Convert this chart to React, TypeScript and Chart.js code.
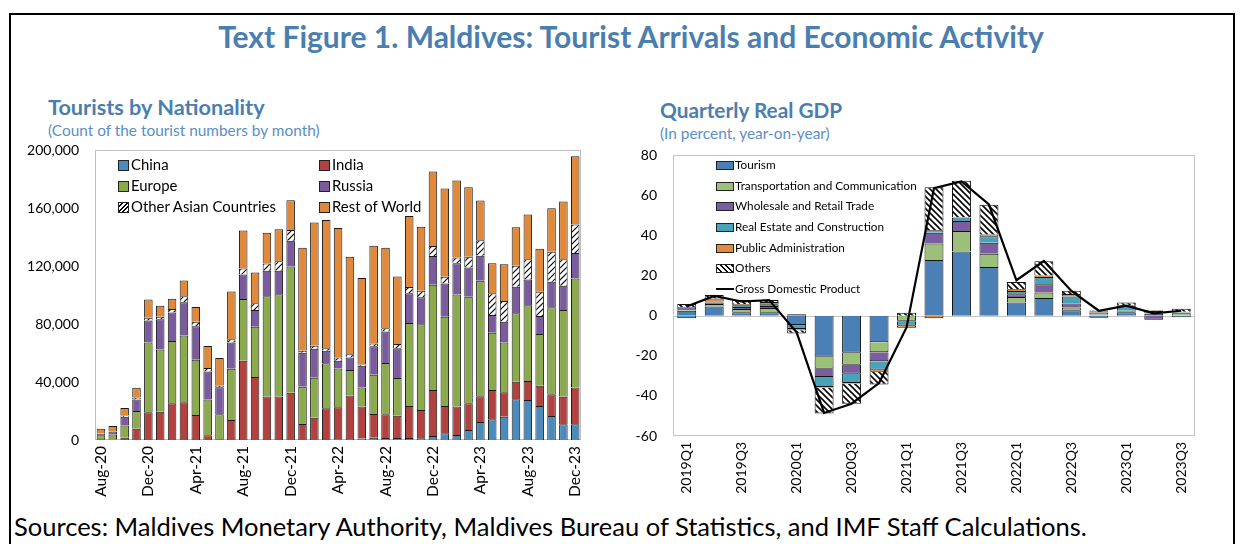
import React, { useEffect, useRef } from 'react';
import { Chart, registerables } from 'chart.js';

Chart.register(...registerables);

const FONT = 'Lato, "Noto Sans", sans-serif';

// ---------- Left chart: Tourists by Nationality ----------
const months = [
  'Aug-20', 'Sep-20', 'Oct-20', 'Nov-20', 'Dec-20',
  'Jan-21', 'Feb-21', 'Mar-21', 'Apr-21', 'May-21', 'Jun-21', 'Jul-21', 'Aug-21', 'Sep-21', 'Oct-21', 'Nov-21', 'Dec-21',
  'Jan-22', 'Feb-22', 'Mar-22', 'Apr-22', 'May-22', 'Jun-22', 'Jul-22', 'Aug-22', 'Sep-22', 'Oct-22', 'Nov-22', 'Dec-22',
  'Jan-23', 'Feb-23', 'Mar-23', 'Apr-23', 'May-23', 'Jun-23', 'Jul-23', 'Aug-23', 'Sep-23', 'Oct-23', 'Nov-23', 'Dec-23',
];

const china = [
  0, 0, 0, 0, 0, 0, 0, 0, 0, 0, 0, 0, 0, 0, 0, 0, 0, 0, 0, 0,
  500, 700, 1100, 1600, 1400, 1400, 1400, 1200, 2800, 4600, 3500, 6900, 12400, 14300, 16100, 28100, 27600, 23500, 16600, 10800, 10800,
];
const india = [
  500, 300, 1600, 7800, 19100, 19500, 25300, 26000, 17300, 3200, 500, 13800, 54700,
  43500, 30100, 30100, 32700, 11000, 15400, 21900, 22100, 30100, 22100, 16300, 16300, 15400, 22100,
  19600, 31700, 18900, 19600, 18400, 17900, 20200, 16800, 12200, 13100, 14000, 15000, 19100, 25500,
];
const europe = [
  2800, 3500, 8500, 12200, 48300, 43000, 43000, 46200, 38200, 24800, 17300, 35400, 42600,
  34700, 69200, 70600, 87200, 25800, 27600, 31100, 26700, 17500, 13100, 27100, 35400, 26000, 57300,
  59100, 72700, 61600, 77300, 73600, 79600, 39600, 34500, 47200, 52400, 35700, 60000, 59800, 75200,
];
const russia = [
  900, 2000, 6000, 8000, 15200, 20900, 19800, 23000, 23000, 19300, 18600, 18200, 17000,
  11500, 17500, 16100, 17700, 23500, 20000, 8700, 5500, 8700, 15000, 19800, 21900, 20500, 20500,
  18600, 19800, 23000, 21600, 20200, 17300, 12200, 14300, 18400, 17700, 12400, 17700, 16800, 17700,
];
const otherAsian = [
  300, 300, 900, 1400, 1800, 1800, 2300, 4100, 3200, 2500, 1200, 2100, 4100,
  4800, 5100, 6700, 7400, 1400, 2100, 1600, 2100, 2300, 900, 1800, 2100, 3000, 4400,
  4600, 6900, 4600, 4100, 7400, 10800, 15000, 14300, 14500, 14000, 16800, 20700, 18400, 19600,
];
const restOfWorld = [
  3200, 3500, 5100, 6700, 12700, 7600, 7100, 10800, 10100, 15200, 19100, 33100, 26200,
  21200, 21200, 22100, 20500, 71100, 85100, 88600, 89500, 67200, 59600, 67600, 55700, 46700, 49000,
  44200, 51500, 61000, 53100, 48100, 27400, 20700, 25300, 26500, 31000, 29700, 30100, 39800, 47200,
];

// ---------- Right chart: Quarterly Real GDP ----------
const quarters = [
  '2019Q1', '2019Q2', '2019Q3', '2019Q4', '2020Q1', '2020Q2', '2020Q3', '2020Q4',
  '2021Q1', '2021Q2', '2021Q3', '2021Q4', '2022Q1', '2022Q2', '2022Q3', '2022Q4',
  '2023Q1', '2023Q2', '2023Q3',
];
const tourism = [2.5, 4.6, 1.7, 1.7, -4.6, -20.4, -18.5, -13.2, 0, 27.8, 32, 24.3, 6.6, 8.8, 2.8, -1.0, 1.7, 1.0, -0.8];
const transport = [0.8, 1.2, 1.7, 2.2, -0.5, -6.1, -6, -5, -2.5, 8.3, 10.3, 6.6, 2.8, 2.8, 1.3, 0.3, 0.3, 0.3, 1.2];
const wholesale = [0.6, 0.8, 1, 1, 0.8, -4.1, -4.5, -4.5, -0.5, 5.3, 5, 5.5, 1.3, 4.1, 2, 0.3, 0.5, -2, 0.3];
const realEstate = [-1.2, 0.5, 0.8, 0.8, -1.5, -5, -4.6, -4.3, -2, 1.2, 1.7, 3.3, 1.7, 3.6, 3.5, 1.0, 2.5, 1.1, 0.3];
const publicAdmin = [0.5, 1.5, 0.7, 1.2, -0.7, -0.3, -0.3, -1, -1, -1.2, 0.2, 0.8, 0.8, 0.8, 1.2, 0.7, 0.3, 0.2, 0.2];
const others = [1.5, 1.8, 2, 1, -1.5, -12.9, -10, -6.3, 1.5, 21.5, 18.2, 14.9, 3.6, 7.1, 1.7, 0.3, 1.3, 0.3, 1.5];
const gdp = [4.6, 9.9, 7.1, 7.8, -8.3, -48.5, -43.9, -33.6, -5.8, 63.7, 67, 55.5, 17.7, 27.3, 12.4, 2.5, 5, 1.2, 2.5];

const C = {
  china: '#4A8BBE',
  india: '#B2423F',
  europe: '#8AAA4C',
  russia: '#7A5C9E',
  rest: '#E0893B',
  tourism: '#4A80B5',
  transport: '#9BC07A',
  wholesale: '#7B5EA0',
  realEstate: '#4AA2B9',
  publicAdmin: '#E38A3E',
  title: '#4A7EB0',
  sub: '#5A8FC6',
};

function makePattern(dir: 'up' | 'down', size: number, lw: number): CanvasPattern {
  const c = document.createElement('canvas');
  c.width = size;
  c.height = size;
  const g = c.getContext('2d') as CanvasRenderingContext2D;
  g.fillStyle = '#fff';
  g.fillRect(0, 0, size, size);
  g.strokeStyle = '#000';
  g.lineWidth = lw;
  g.beginPath();
  if (dir === 'up') {
    g.moveTo(0, size); g.lineTo(size, 0);
    g.moveTo(-2, 2); g.lineTo(2, -2);
    g.moveTo(size - 2, size + 2); g.lineTo(size + 2, size - 2);
  } else {
    g.moveTo(0, 0); g.lineTo(size, size);
    g.moveTo(size - 2, -2); g.lineTo(size + 2, 2);
    g.moveTo(-2, size - 2); g.lineTo(2, size + 2);
  }
  g.stroke();
  return g.createPattern(c, 'repeat') as CanvasPattern;
}

const framePlugin = {
  id: 'frame',
  beforeDatasetsDraw(chart: any, _args: any, opts: any) {
    const { ctx, chartArea: a } = chart;
    ctx.save();
    ctx.strokeStyle = opts.color || '#BFBFBF';
    ctx.lineWidth = 1;
    ctx.strokeRect(Math.round(a.left) + 0.5, Math.round(a.top) + 0.5, Math.round(a.right - a.left) - 1, Math.round(a.bottom - a.top) - 1);
    if (opts.zero) {
      const y = Math.round(chart.scales.y.getPixelForValue(0)) + 0.5;
      ctx.beginPath();
      ctx.moveTo(a.left, y);
      ctx.lineTo(a.right, y);
      ctx.stroke();
    }
    ctx.restore();
  },
};

function LeftChart() {
  const ref = useRef<HTMLCanvasElement>(null);
  useEffect(() => {
    const hatch = makePattern('up', 6, 1.2);
    const mk = (label: string, data: number[], color: any) => ({
      label, data, backgroundColor: color, borderColor: '#1a1a1a', borderWidth: 1,
      barPercentage: 0.72, categoryPercentage: 1,
    });
    const chart = new Chart(ref.current as HTMLCanvasElement, {
      type: 'bar',
      data: {
        labels: months,
        datasets: [
          mk('China', china, C.china),
          mk('India', india, C.india),
          mk('Europe', europe, C.europe),
          mk('Russia', russia, C.russia),
          mk('Other Asian Countries', otherAsian, hatch),
          mk('Rest of World', restOfWorld, C.rest),
        ],
      },
      options: {
        responsive: false,
        animation: false,
        layout: { padding: { top: 10, right: 13, bottom: 0, left: 0 } },
        plugins: { legend: { display: false }, tooltip: { enabled: false }, frame: { color: '#BFBFBF' } } as any,
        scales: {
          x: {
            stacked: true,
            grid: { display: false, drawTicks: false },
            border: { display: false },
            afterFit: (s: any) => { s.height = 70; },
            ticks: {
              autoSkip: false, minRotation: 90, maxRotation: 90, padding: 6, color: '#000',
              font: { family: FONT, size: 15.5 },
              callback: (_v: any, i: number) => (i % 4 === 0 ? months[i] : ''),
            },
          },
          y: {
            stacked: true, min: 0, max: 200000,
            grid: { display: false, drawTicks: false },
            border: { display: false },
            afterFit: (s: any) => { s.width = 95; },
            ticks: {
              stepSize: 40000, padding: 16, color: '#000',
              font: { family: FONT, size: 14 },
              callback: (v: any) => Number(v).toLocaleString('en-US'),
            },
          },
        },
      },
      plugins: [framePlugin],
    } as any);
    return () => chart.destroy();
  }, []);
  return <canvas ref={ref} width={600} height={384} style={{ position: 'absolute', left: 0, top: 126, width: 600, height: 384 }} />;
}

function RightChart() {
  const ref = useRef<HTMLCanvasElement>(null);
  useEffect(() => {
    const hatch = makePattern('down', 6, 1.6);
    const mk = (label: string, data: number[], color: any) => ({
      type: 'bar', label, data, backgroundColor: color, borderColor: '#111', borderWidth: 1,
      barPercentage: 0.69, categoryPercentage: 1, order: 2,
    });
    const chart = new Chart(ref.current as HTMLCanvasElement, {
      type: 'bar',
      data: {
        labels: quarters,
        datasets: [
          mk('Tourism', tourism, C.tourism),
          mk('Transportation and Communication', transport, C.transport),
          mk('Wholesale and Retail Trade', wholesale, C.wholesale),
          mk('Real Estate and Construction', realEstate, C.realEstate),
          mk('Public Administration', publicAdmin, C.publicAdmin),
          mk('Others', others, hatch),
          {
            type: 'line', label: 'Gross Domestic Product', data: gdp, stack: 'gdp',
            borderColor: '#000', backgroundColor: '#000', borderWidth: 2.2, pointRadius: 0,
            tension: 0, order: 1, fill: false,
          },
        ],
      },
      options: {
        responsive: false,
        animation: false,
        layout: { padding: { top: 14, right: 46, bottom: 0, left: 0 } },
        plugins: { legend: { display: false }, tooltip: { enabled: false }, frame: { color: '#C4C4C4', zero: true } } as any,
        scales: {
          x: {
            stacked: true,
            grid: { display: false, drawTicks: false },
            border: { display: false },
            afterFit: (s: any) => { s.height = 74; },
            ticks: {
              autoSkip: false, minRotation: 90, maxRotation: 90, padding: 6, color: '#000',
              font: { family: FONT, size: 14 },
              callback: (_v: any, i: number) => (i % 2 === 0 ? quarters[i] : ''),
            },
          },
          y: {
            stacked: true, min: -60, max: 80,
            grid: { display: false, drawTicks: false },
            border: { display: false },
            afterFit: (s: any) => { s.width = 53; },
            ticks: {
              stepSize: 20, padding: 16, color: '#000',
              font: { family: FONT, size: 14 },
            },
          },
        },
      },
      plugins: [framePlugin],
    } as any);
    return () => chart.destroy();
  }, []);
  return <canvas ref={ref} width={621} height={379} style={{ position: 'absolute', left: 620, top: 131, width: 621, height: 379 }} />;
}

function Txt(props: { x: number; y: number; size: number; bold?: boolean; color?: string; children: any; width?: number; align?: any }) {
  const { x, y, size, bold, color, children, width, align } = props;
  return (
    <div
      style={{
        position: 'absolute', left: x, top: y - 0.53 * size, width, textAlign: align,
        fontSize: size, lineHeight: `${size}px`, fontWeight: bold ? 700 : 400,
        color: color || '#000', whiteSpace: 'nowrap', fontFamily: FONT,
      }}
    >
      {children}
    </div>
  );
}

const upHatchCss = 'repeating-linear-gradient(135deg, #fff 0px, #fff 2px, #000 2px, #000 3.2px)';
const downHatchCss = 'repeating-linear-gradient(45deg, #fff 0px, #fff 2.5px, #000 2.5px, #000 4px)';

function LBox(props: { x: number; y: number; bg: string }) {
  return (
    <div style={{ position: 'absolute', left: props.x, top: props.y - 5, width: 9, height: 9, background: props.bg, border: '1px solid #222', boxSizing: 'content-box' }} />
  );
}

function RBox(props: { y: number; bg?: string; line?: boolean }) {
  if (props.line) {
    return <div style={{ position: 'absolute', left: 716, top: props.y - 1, width: 18, height: 2, background: '#000' }} />;
  }
  return <div style={{ position: 'absolute', left: 716, top: props.y - 4, width: 16, height: 7, background: props.bg, border: '1px solid #222' }} />;
}

export default function App() {
  const leftLegend = [
    { x: 118, y: 165, bg: C.china, t: 'China' },
    { x: 319, y: 165, bg: C.india, t: 'India' },
    { x: 118, y: 186, bg: C.europe, t: 'Europe' },
    { x: 319, y: 186, bg: C.russia, t: 'Russia' },
    { x: 118, y: 207, bg: upHatchCss, t: 'Other Asian Countries' },
    { x: 319, y: 207, bg: C.rest, t: 'Rest of World' },
  ];
  const rightLegend = [
    { y: 165, bg: C.tourism, t: 'Tourism' },
    { y: 186, bg: C.transport, t: 'Transportation and Communication' },
    { y: 206, bg: C.wholesale, t: 'Wholesale and Retail Trade' },
    { y: 227, bg: C.realEstate, t: 'Real Estate and Construction' },
    { y: 248, bg: C.publicAdmin, t: 'Public Administration' },
    { y: 268, bg: downHatchCss, t: 'Others' },
  ];
  return (
    <div style={{ position: 'fixed', left: 0, top: 0, width: 1241, height: 544, overflow: 'hidden', background: '#fff', fontFamily: FONT }}>
      <div style={{ position: 'absolute', left: 9, top: 13, width: 1222, height: 600, border: '2px solid #000' }} />
      <Txt x={20} y={37} size={30} bold color={C.title} width={1222} align="center">
        Text Figure 1. Maldives: Tourist Arrivals and Economic Activity
      </Txt>
      <Txt x={48} y={109} size={21.7} bold color={C.title}>Tourists by Nationality</Txt>
      <Txt x={48} y={131} size={15.4} color={C.sub}>(Count of the tourist numbers by month)</Txt>
      <Txt x={660} y={111} size={20.8} bold color={C.title}>Quarterly Real GDP</Txt>
      <Txt x={660} y={134} size={15.4} color={C.sub}>(In percent, year-on-year)</Txt>

      <LeftChart />
      <RightChart />

      {leftLegend.map((l) => (
        <React.Fragment key={l.t}>
          <LBox x={l.x} y={l.y} bg={l.bg} />
          <Txt x={l.x + 13} y={l.y} size={14.9}>{l.t}</Txt>
        </React.Fragment>
      ))}
      {rightLegend.map((l) => (
        <React.Fragment key={l.t}>
          <RBox y={l.y} bg={l.bg} />
          <Txt x={735} y={l.y} size={11.75}>{l.t}</Txt>
        </React.Fragment>
      ))}
      <RBox y={289} line />
      <Txt x={735} y={289} size={11.75}>Gross Domestic Product</Txt>

      <Txt x={14} y={528} size={25.5}>
        Sources: Maldives Monetary Authority, Maldives Bureau of Statistics, and IMF Staff Calculations.
      </Txt>
    </div>
  );
}
